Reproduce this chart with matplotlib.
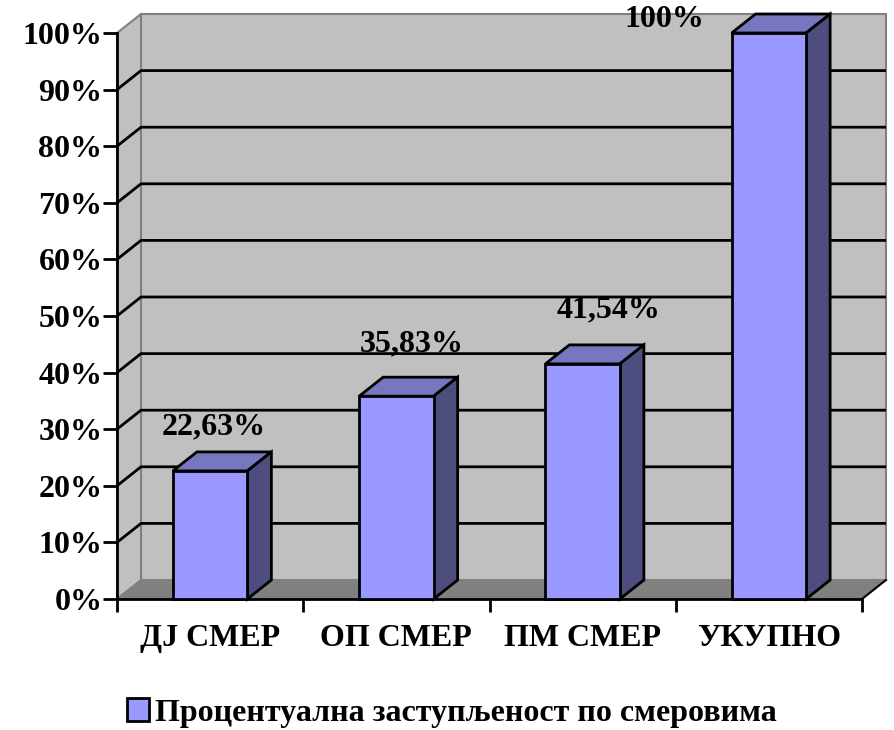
import matplotlib.pyplot as plt
from matplotlib.patches import Polygon, Rectangle, Patch

# data
categories = ["ДЈ СМЕР", "ОП СМЕР", "ПМ СМЕР", "УКУПНО"]
values = [22.63, 35.83, 41.54, 100.0]
series_name = "Процентуална заступљеност по смеровима"
yticks = [0, 10, 20, 30, 40, 50, 60, 70, 80, 90, 100]

# layout / style
label_dx = [0.02, 0.08, 0.14, -0.56]
label_dy = [7.8, 9.3, 9.5, 2.3]
FRONT = "#9999ff"
TOP = "#7777c0"
SIDE = "#4d4d80"
WALL = "#c0c0c0"
FLOOR = "#808080"
FONT = "Liberation Serif"
FS = 23

plt.rcParams["font.family"] = [FONT, "DejaVu Serif"]
plt.rcParams["font.weight"] = "bold"

W, H = 894, 730
fig = plt.figure(figsize=(W / 100, H / 100), dpi=100)
ax = fig.add_axes([117 / W, (H - 599) / H, 745 / W, 566 / H])
n = len(categories)
ax.set_xlim(0, n)
ax.set_ylim(0, 100)

# depth offset of the 3D walls (data units)
dx = 24 / 745 * n
dy = 19 / 566 * 100

# back wall
ax.add_patch(Rectangle((dx, dy), n, 100, facecolor=WALL, edgecolor=FLOOR,
                       lw=1.5, zorder=1, clip_on=False))
# side wall
ax.add_patch(Polygon([(0, 0), (dx, dy), (dx, 100 + dy), (0, 100)], closed=True,
                     facecolor=WALL, edgecolor=FLOOR, lw=1.5, zorder=1, clip_on=False))
# floor
ax.add_patch(Polygon([(0, 0), (n, 0), (n + dx, dy), (dx, dy)], closed=True,
                     facecolor=FLOOR, edgecolor=FLOOR, lw=1, zorder=1.5, clip_on=False))
ax.plot([n, n + dx], [0, dy], color="black", lw=1.5, zorder=1.6, clip_on=False)

# gridlines on side + back wall
for t in yticks[1:-1]:
    ax.plot([0, dx, n + dx], [t, t + dy, t + dy], color="black", lw=2,
            zorder=2, clip_on=False, solid_capstyle="butt")

# bars
bw = 0.4
x0s = [i + 0.5 - bw / 2 for i in range(n)]
ax.bar([i + 0.5 for i in range(n)], values, width=bw, color=FRONT,
       edgecolor="black", lw=2, zorder=5, clip_on=False)
for x0, v in zip(x0s, values):
    x1 = x0 + bw
    ax.add_patch(Polygon([(x0, v), (x1, v), (x1 + dx, v + dy), (x0 + dx, v + dy)],
                         closed=True, facecolor=TOP, edgecolor="black", lw=2,
                         zorder=4, clip_on=False, joinstyle="miter"))
    ax.add_patch(Polygon([(x1, 0), (x1 + dx, dy), (x1 + dx, v + dy), (x1, v)],
                         closed=True, facecolor=SIDE, edgecolor="black", lw=2,
                         zorder=4, clip_on=False, joinstyle="miter"))

# value labels
for i, v in enumerate(values):
    txt = f"{v:.0f}%" if v == int(v) else f"{v:.2f}%".replace(".", ",")
    ax.text(i + 0.5 + label_dx[i], v + label_dy[i], txt, ha="center",
            va="center", fontsize=FS, fontweight="bold", zorder=6)

# axes
ax.set_facecolor("none")
for s in ["top", "right"]:
    ax.spines[s].set_visible(False)
ax.spines["left"].set_linewidth(2)
ax.spines["bottom"].set_linewidth(2)
ax.spines["left"].set_zorder(3)
ax.spines["bottom"].set_zorder(3)
ax.set_yticks(yticks)
ax.set_yticklabels([f"{t}%" for t in yticks], fontsize=FS, fontweight="bold")
ax.tick_params(axis="y", length=10, width=2, pad=0.5)
ax.set_xticks(range(n + 1))
ax.set_xticklabels([])
ax.set_xticks([i + 0.5 for i in range(n)], minor=True)
ax.set_xticklabels(categories, minor=True, fontsize=FS, fontweight="bold")
ax.tick_params(axis="x", which="major", length=9, width=2)
ax.tick_params(axis="x", which="minor", length=0, pad=18)

# legend
ax.legend(handles=[Patch(facecolor=FRONT, edgecolor="black", lw=2)],
          labels=[series_name], loc="center", frameon=False,
          bbox_to_anchor=(452 / W, 1 - 713 / H), bbox_transform=fig.transFigure,
          handlelength=0.7, handleheight=0.7, handletextpad=0.2,
          prop={"family": FONT, "weight": "bold", "size": FS})

fig.savefig("out.png", dpi=100)
